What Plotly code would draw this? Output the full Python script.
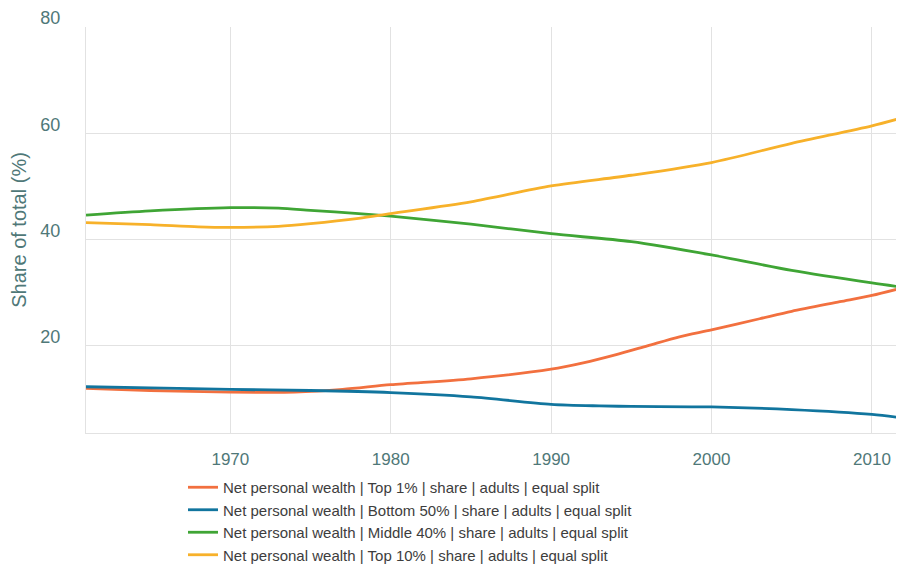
import plotly.graph_objects as go

years_top1 = [1961, 1965, 1970, 1974, 1977, 1980, 1985, 1990, 1992, 1994, 1996, 1998, 2000, 2003, 2005, 2008, 2010, 2012]
top1 = [12.0, 11.6, 11.3, 11.3, 11.8, 12.7, 13.8, 15.6, 16.8, 18.3, 20.0, 21.7, 23.0, 25.1, 26.5, 28.3, 29.5, 31.0]

years_bottom50 = [1961, 1965, 1970, 1975, 1980, 1985, 1990, 1993, 1995, 2000, 2005, 2010, 2012]
bottom50 = [12.3, 12.1, 11.8, 11.6, 11.2, 10.4, 9.0, 8.7, 8.6, 8.5, 8.0, 7.1, 6.4]

years_middle40 = [1961, 1965, 1970, 1973, 1975, 1978, 1980, 1985, 1990, 1995, 2000, 2005, 2010, 2012]
middle40 = [44.6, 45.4, 46.0, 45.9, 45.5, 44.9, 44.4, 42.9, 41.1, 39.6, 37.1, 34.2, 31.85, 31.0]

years_top10 = [1961, 1965, 1968, 1970, 1973, 1975, 1978, 1980, 1985, 1990, 1995, 2000, 2005, 2010, 2012]
top10 = [43.2, 42.8, 42.4, 42.3, 42.5, 43.0, 44.0, 44.9, 47.1, 50.1, 52.1, 54.5, 58.1, 61.4, 63.0]

names = [
    "Net personal wealth | Top 1% | share | adults | equal split",
    "Net personal wealth | Bottom 50% | share | adults | equal split",
    "Net personal wealth | Middle 40% | share | adults | equal split",
    "Net personal wealth | Top 10% | share | adults | equal split",
]
colors = ["#f2703f", "#11759e", "#3fa535", "#f7b12a"]

x_ticks = [1970, 1980, 1990, 2000, 2010]
y_ticks = [20, 40, 60, 80]

series = [(years_top1, top1), (years_bottom50, bottom50), (years_middle40, middle40), (years_top10, top10)]

fig = go.Figure()
for (xs, ys), name, col in zip(series, names, colors):
    fig.add_trace(go.Scatter(x=xs, y=ys, name=name, mode="lines",
                             line=dict(color=col, width=2.8, shape="spline", smoothing=0.8)))

axis_col = "#4f7878"
W, H = 896, 559
L, T, B = 78, 19, 134
PW, PH = W - L, H - T - B
fig.update_layout(
    width=W, height=H,
    margin=dict(l=L, r=0, t=T, b=B, autoexpand=False),
    paper_bgcolor="white", plot_bgcolor="white",
    font=dict(family="Liberation Sans, Arial, sans-serif", color="#444444"),
    showlegend=True,
    legend=dict(orientation="v",
                x=(175 - L) / PW, xanchor="left", y=-(463 - (H - B)) / PH, yanchor="top",
                font=dict(size=15, color="#3d3d3d"), tracegroupgap=0, itemwidth=30,
                bgcolor="rgba(0,0,0,0)"),
    xaxis=dict(range=[1961, 2012], tickvals=x_ticks, ticktext=[str(v) for v in x_ticks],
               showgrid=True, gridcolor="#e2e2e2", gridwidth=1.2, zeroline=False,
               showline=True, linecolor="#e2e2e2", linewidth=1.2, automargin=False,
               tickfont=dict(size=17, color=axis_col), ticks="", ticklabelstandoff=10),
    yaxis=dict(range=[3.6, 80], tickvals=y_ticks, ticktext=[str(v) for v in y_ticks],
               showgrid=True, gridcolor="#e2e2e2", gridwidth=1.2, zeroline=False,
               showline=True, linecolor="#e2e2e2", linewidth=1.2, automargin=False,
               tickfont=dict(size=18, color=axis_col), ticks="",
               ticklabelshift=-9, ticklabelstandoff=21,
               title=dict(text="Share of total (%)", font=dict(size=20, color=axis_col))),
)

fig.write_html("out.html")
